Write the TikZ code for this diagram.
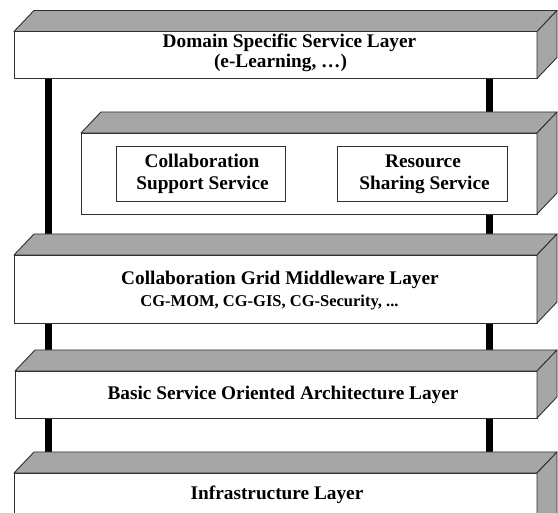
\documentclass[tikz,border=0pt]{standalone}
\usepackage{fontspec}
\setmainfont{Liberation Serif}
\usetikzlibrary{calc}
\pgfdeclarelayer{background}
\pgfsetlayers{background,main}
\definecolor{facegray}{HTML}{A6A6A6}
\definecolor{edgecol}{HTML}{303030}
\tikzset{
  frontface/.style={draw=edgecol, line width=0.9pt, fill=white, inner sep=0pt, outer sep=0pt},
  topface/.style={draw=edgecol, line width=0.9pt, fill=facegray, line join=round},
  pillar/.style={line width=7pt, black},
  bigtxt/.style={font=\fontsize{19.3}{22}\selectfont\bfseries, inner sep=0pt, anchor=base},
  smalltxt/.style={font=\fontsize{16.5}{19}\selectfont\bfseries, inner sep=0pt, anchor=base},
}
% #1 name, #2 x1, #3 y1, #4 x2, #5 y2  (front face, y downward)
\newcommand\slab[5]{%
  \node[frontface, minimum width={(#4-#2)*1pt}, minimum height={(#5-#3)*1pt}]
    (#1) at ({(#2+#4)/2},{(#3+#5)/2}) {};
  \coordinate (#1-back) at ($(#1.north west)+(20,-21)$);
  \draw[topface] (#1.north west) -- (#1-back) -- ($(#1.north east)+(20,-21)$) -- (#1.north east) -- cycle;
  \draw[topface] (#1.north east) -- ($(#1.north east)+(20,-21)$) -- ($(#1.south east)+(20,-21)$) -- (#1.south east) -- cycle;
}
\begin{document}
\begin{tikzpicture}[x=1pt,y=-1pt]
\useasboundingbox (0,0) rectangle (558,513);
\coordinate (lx) at (48.5,0);
\coordinate (rx) at (489.5,0);

\slab{dom}{14}{31.5}{537}{78.5}
\slab{svc}{81}{133}{537}{214}
\slab{cg}{14}{255}{537}{323}
\slab{soa}{15}{371}{537}{418}
\slab{inf}{14}{473}{537}{540}

% inner boxes
\node[frontface, minimum width=169pt, minimum height=55pt] (css) at (200.5,173.5) {};
\node[frontface, minimum width=170pt, minimum height=55pt] (rss) at (422,173.5) {};

% pillars
\begin{pgfonlayer}{background}
\fill[white] (0,0) rectangle (558,513);
\draw[pillar] (lx |- dom.south) -- (lx |- cg-back);
\draw[pillar] (rx |- dom.south) -- (rx |- svc-back);
\draw[pillar] (rx |- svc.south) -- (rx |- cg-back);
\draw[pillar] (lx |- cg.south) -- (lx |- soa-back);
\draw[pillar] (rx |- cg.south) -- (rx |- soa-back);
\draw[pillar] (lx |- soa.south) -- (lx |- inf-back);
\draw[pillar] (rx |- soa.south) -- (rx |- inf-back);
\end{pgfonlayer}

% texts
\node[bigtxt] (t1) at (289.5,47.5) {Domain Specific Service Layer};
\node[bigtxt] (t2) at (280.5,68) {(e-Learning, …)};
\node[bigtxt] (t3) at (202,168) {Collaboration};
\node[bigtxt] (t4) at (202.5,190) {Support Service};
\node[bigtxt] (t5) at (423,168) {Resource};
\node[bigtxt] (t6) at (424.5,190) {Sharing Service};
\node[bigtxt] (t7) at (280,285) {Collaboration Grid Middleware Layer};
\node[smalltxt] (t8) at (269.5,307) {CG-MOM, CG-GIS, CG-Security, ...};
\node[bigtxt] (t9) at (283,400) {Basic Service Oriented Architecture Layer};
\node[bigtxt] (t10) at (277,500) {Infrastructure Layer};
\end{tikzpicture}
\end{document}
